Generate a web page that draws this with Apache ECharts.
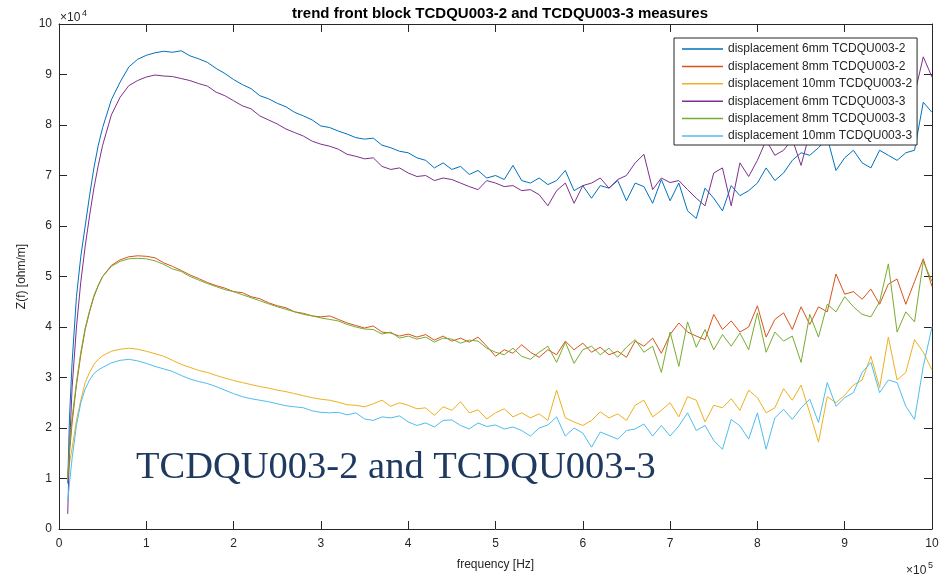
<!DOCTYPE html>
<html>
<head>
<meta charset="utf-8">
<script src="https://cdn.jsdelivr.net/npm/echarts@6/dist/echarts.min.js"></script>
<style>
  html, body { margin: 0; padding: 0; background: #fff; }
  #chart { width: 944px; height: 576px; }
</style>
</head>
<body>
<div id="chart"></div>
<script>
// frequency in units of 1e5 Hz, impedance in units of 1e4 ohm/m
const freq = [
  0.1, 0.12, 0.15, 0.2, 0.25, 0.3, 0.35, 0.4, 0.45, 0.5, 0.6, 0.7, 0.8, 0.9,
  1.0, 1.1, 1.2, 1.3, 1.4, 1.5, 1.6, 1.7, 1.8, 1.9,
  2.0, 2.1, 2.2, 2.3, 2.4, 2.5, 2.6, 2.7, 2.8, 2.9,
  3.0, 3.1, 3.2, 3.3, 3.4, 3.5, 3.6, 3.7, 3.8, 3.9,
  4.0, 4.1, 4.2, 4.3, 4.4, 4.5, 4.6, 4.7, 4.8, 4.9,
  5.0, 5.1, 5.2, 5.3, 5.4, 5.5, 5.6, 5.7, 5.8, 5.9,
  6.0, 6.1, 6.2, 6.3, 6.4, 6.5, 6.6, 6.7, 6.8, 6.9,
  7.0, 7.1, 7.2, 7.3, 7.4, 7.5, 7.6, 7.7, 7.8, 7.9,
  8.0, 8.1, 8.2, 8.3, 8.4, 8.5, 8.6, 8.7, 8.8, 8.9,
  9.0, 9.1, 9.2, 9.3, 9.4, 9.5, 9.6, 9.7, 9.8, 9.9,
  10.0
];

const z6mm_2 = [
  0.9, 2.2, 3.3, 4.6, 5.4, 6.0, 6.6, 7.15, 7.6, 7.95, 8.5, 8.85, 9.15, 9.3,
  9.38, 9.43, 9.46, 9.44, 9.47, 9.37, 9.31, 9.24, 9.12, 9.02,
  8.9, 8.8, 8.72, 8.58, 8.52, 8.43, 8.36, 8.25, 8.18, 8.1,
  7.98, 7.95, 7.88, 7.82, 7.75, 7.72, 7.74, 7.6, 7.55, 7.48,
  7.45, 7.35, 7.3, 7.15, 7.25, 7.12, 7.18, 7.02, 7.1, 6.95,
  7.0, 6.92, 7.2, 6.9, 6.85, 6.95, 6.82, 6.9, 7.1, 6.7,
  6.8, 6.55, 6.8, 6.75, 6.9, 6.5, 6.85, 6.78, 6.45, 6.92,
  6.5, 6.85, 6.3, 6.15, 6.75, 6.55, 6.3, 6.8, 6.6, 6.7,
  6.85, 7.15, 6.9, 7.05, 7.3, 7.45, 7.4, 7.55, 7.75, 7.1,
  7.35, 7.5, 7.25, 7.15, 7.5, 7.4, 7.3, 7.45, 7.5, 8.45,
  8.25
];

const z8mm_2 = [
  1.0, 1.5, 2.1, 2.85, 3.45, 3.95, 4.3, 4.6, 4.82, 5.0, 5.22, 5.33, 5.39, 5.41,
  5.4, 5.37, 5.27, 5.2, 5.12, 5.03, 4.96, 4.88, 4.82, 4.77,
  4.7, 4.68, 4.6, 4.56, 4.48, 4.42, 4.38, 4.3, 4.27, 4.22,
  4.2, 4.22, 4.15, 4.08, 4.03, 3.98, 4.02, 3.9, 3.88, 3.82,
  3.86, 3.8, 3.85, 3.74, 3.82, 3.72, 3.78, 3.7, 3.8, 3.62,
  3.42, 3.55, 3.48, 3.65, 3.5, 3.4, 3.55, 3.45, 3.72, 3.55,
  3.68, 3.5, 3.6, 3.45, 3.52, 3.4, 3.72, 3.62, 3.78, 3.48,
  3.85, 4.08, 3.9, 3.82, 3.75, 4.25, 3.95, 4.12, 3.9, 4.0,
  4.42, 3.8, 4.15, 4.28, 3.95, 4.4, 4.05, 4.4, 4.3, 5.05,
  4.65, 4.7, 4.55, 4.75, 4.45, 4.85, 4.95, 4.45, 4.9, 5.35,
  4.8
];

const z10mm_2 = [
  1.0, 1.3, 1.6, 2.15, 2.55, 2.9, 3.1, 3.26, 3.36, 3.43, 3.52, 3.56, 3.58, 3.56,
  3.52, 3.47, 3.42, 3.34, 3.26, 3.2, 3.14, 3.1, 3.04, 2.99,
  2.94, 2.9, 2.86, 2.82, 2.79, 2.75, 2.72, 2.68, 2.64, 2.6,
  2.57, 2.55, 2.51, 2.46, 2.45, 2.42, 2.48, 2.55, 2.43, 2.5,
  2.45, 2.38, 2.4, 2.25, 2.42, 2.35, 2.52, 2.3, 2.36, 2.18,
  2.3, 2.38, 2.22, 2.3, 2.2, 2.28, 2.15, 2.75, 2.2, 2.12,
  2.05, 2.15, 2.32, 2.2, 2.28, 2.15, 2.45, 2.55, 2.22, 2.35,
  2.5, 2.22, 2.62, 2.55, 2.12, 2.45, 2.4, 2.58, 2.35, 2.75,
  2.6, 2.3, 2.4, 2.78, 2.55, 2.85, 2.3, 1.72, 2.62, 2.5,
  2.65, 2.85, 2.95, 3.42, 2.8, 3.8, 2.95, 3.1, 3.75, 3.5,
  3.15
];

const z6mm_3 = [
  0.3, 1.6, 2.8, 4.0, 4.9, 5.6, 6.2, 6.75, 7.2, 7.6, 8.2, 8.55, 8.78, 8.88,
  8.95, 8.99, 8.97, 8.96, 8.92, 8.88, 8.82, 8.77, 8.65, 8.58,
  8.48, 8.38, 8.32, 8.18, 8.1, 8.02, 7.92, 7.85, 7.78, 7.68,
  7.62, 7.58, 7.52, 7.42, 7.38, 7.33, 7.35, 7.18, 7.12, 7.15,
  7.05, 6.98, 7.0, 6.9, 6.95, 6.92, 6.85, 6.78, 6.72, 6.9,
  6.85, 6.78, 6.8, 6.7, 6.72, 6.62, 6.4, 6.7, 6.85, 6.45,
  6.8, 6.85, 6.95, 6.75, 6.92, 7.0, 7.25, 7.42, 6.72, 6.95,
  6.86, 6.9, 6.72, 6.55, 6.4, 7.05, 7.15, 6.4, 7.25, 6.98,
  7.3, 7.7, 7.4, 7.5, 7.72, 7.2, 7.85, 7.7, 7.9, 7.6,
  7.8, 7.95, 7.7, 7.8, 7.95, 7.75, 7.9, 8.0, 8.6, 9.35,
  8.95
];

const z8mm_3 = [
  1.0, 1.6, 2.2, 2.9, 3.5, 3.98, 4.32, 4.62, 4.83, 5.0, 5.2, 5.3, 5.35, 5.36,
  5.35, 5.31, 5.24, 5.15, 5.1, 5.0, 4.93, 4.86, 4.8, 4.74,
  4.7, 4.64, 4.58, 4.52, 4.46, 4.4, 4.35, 4.3, 4.25, 4.22,
  4.18, 4.15, 4.12, 4.05, 4.0, 3.96, 3.95, 3.86, 3.9, 3.78,
  3.82, 3.76, 3.8, 3.7, 3.78, 3.76, 3.68, 3.74, 3.72, 3.58,
  3.5, 3.45, 3.58, 3.42, 3.36, 3.5, 3.62, 3.3, 3.7, 3.28,
  3.55, 3.62, 3.45, 3.58, 3.4, 3.6, 3.75, 3.5, 3.62, 3.1,
  3.9, 3.22, 4.1, 3.6, 3.95, 3.55, 3.85, 3.62, 3.88, 3.55,
  4.28, 3.5, 3.9, 3.72, 3.82, 3.3, 4.25, 3.8, 4.45, 4.3,
  4.6, 4.4, 4.25, 4.2, 4.5, 5.25, 3.9, 4.3, 4.1, 5.3,
  4.9
];

const z10mm_3 = [
  0.55, 0.9, 1.4, 2.05, 2.5, 2.77, 2.95, 3.08, 3.15, 3.2, 3.29, 3.34, 3.36, 3.33,
  3.28, 3.22, 3.17, 3.12, 3.04, 2.97, 2.92, 2.88, 2.82, 2.75,
  2.68, 2.62, 2.58, 2.55, 2.52, 2.48, 2.44, 2.42, 2.4, 2.34,
  2.31, 2.3, 2.31, 2.26, 2.3, 2.18, 2.15, 2.22, 2.2, 2.24,
  2.12, 2.05, 2.1, 2.02, 2.15, 2.16, 2.05, 1.98, 2.1, 2.03,
  2.06, 1.98, 2.02, 1.95, 1.84, 2.0, 2.06, 2.22, 1.84, 2.0,
  1.9, 1.62, 1.92, 1.85, 1.78, 1.95, 1.98, 2.08, 1.84, 2.05,
  1.84, 2.04, 2.3, 1.95, 2.05, 1.75, 1.58, 2.17, 2.04, 1.78,
  2.3, 1.58, 2.2, 2.37, 2.17, 2.4, 2.57, 2.11, 2.9, 2.43,
  2.6, 2.7, 3.1, 3.3, 2.7, 2.95, 2.9, 2.43, 2.17, 3.22,
  4.0
];

const seriesNames = [
  "displacement 6mm TCDQU003-2",
  "displacement 8mm TCDQU003-2",
  "displacement 10mm TCDQU003-2",
  "displacement 6mm TCDQU003-3",
  "displacement 8mm TCDQU003-3",
  "displacement 10mm TCDQU003-3"
];
const seriesValues = [z6mm_2, z8mm_2, z10mm_2, z6mm_3, z8mm_3, z10mm_3];
const seriesColors = ["#0072BD", "#D95319", "#EDB120", "#7E2F8E", "#77AC30", "#4DBEEE"];

const axisTicks = [0, 1, 2, 3, 4, 5, 6, 7, 8, 9, 10];

const FONT = "'Liberation Sans', Arial, Helvetica, sans-serif";
const AXIS_COLOR = "#262626";

const chart = echarts.init(document.getElementById("chart"));

const boxAxis = (extra) => Object.assign({
    type: "value",
    min: 0,
    max: 10,
    interval: 1,
    axisLine: { show: true, onZero: false, lineStyle: { color: AXIS_COLOR, width: 1 } },
    axisTick: { show: true, inside: true, length: 8, lineStyle: { color: AXIS_COLOR } },
    splitLine: { show: false },
    axisLabel: {
        show: true,
        color: AXIS_COLOR,
        fontFamily: FONT,
        fontSize: 12,
        formatter: (v) => axisTicks.includes(v) ? String(v) : ""
    }
}, extra);

chart.setOption({
    animation: false,
    backgroundColor: "#fff",

    title: {
        text: "trend front block TCDQU003-2 and TCDQU003-3 measures",
        left: 495,
        textAlign: "center",
        top: 1,
        textStyle: { fontFamily: FONT, fontSize: 15, fontWeight: "bold", color: "#000" }
    },

    grid: { left: 59, right: 12, top: 24, bottom: 46, containLabel: false },

    xAxis: [
        boxAxis({
            position: "bottom",
            name: "frequency [Hz]",
            nameLocation: "middle",
            nameGap: 30,
            nameTextStyle: { fontFamily: FONT, fontSize: 12, color: AXIS_COLOR },
            axisLabel: {
                color: AXIS_COLOR, fontFamily: FONT, fontSize: 12, margin: 9
            }
        }),
        boxAxis({ position: "top", axisLabel: { show: false } })
    ],

    yAxis: [
        boxAxis({
            position: "left",
            name: "Z(f) [ohm/m]",
            nameLocation: "middle",
            nameGap: 31,
            nameRotate: 90,
            nameTextStyle: { fontFamily: FONT, fontSize: 12, color: AXIS_COLOR },
            axisLabel: {
                color: AXIS_COLOR, fontFamily: FONT, fontSize: 12, margin: 7
            }
        }),
        boxAxis({ position: "right", axisLabel: { show: false } })
    ],

    legend: {
        orient: "vertical",
        left: 674,
        top: 38,
        padding: [4, 5, 2, 8],
        icon: "rect",
        itemWidth: 41,
        itemHeight: 1.5,
        itemGap: 3.4,
        backgroundColor: "#fff",
        borderColor: AXIS_COLOR,
        borderWidth: 1,
        borderRadius: 0,
        textStyle: { fontFamily: FONT, fontSize: 12, lineHeight: 14, color: AXIS_COLOR },
        data: seriesNames
    },

    series: seriesNames.map((name, k) => ({
        name: name,
        type: "line",
        xAxisIndex: 0,
        yAxisIndex: 0,
        symbol: "none",
        smooth: false,
        color: seriesColors[k],
        lineStyle: { width: 1, color: seriesColors[k] },
        data: freq.map((f, i) => [f, seriesValues[k][i]])
    })),

    graphic: [
        // exponent markers
        { type: "text", left: 60, top: 12, style: { text: "\u00d710", fontFamily: FONT, fontSize: 12, fill: AXIS_COLOR } },
        { type: "text", left: 82, top: 9, style: { text: "4", fontFamily: FONT, fontSize: 9, fill: AXIS_COLOR } },
        { type: "text", left: 906, top: 565, style: { text: "\u00d710", fontFamily: FONT, fontSize: 12, fill: AXIS_COLOR } },
        { type: "text", left: 928, top: 561, style: { text: "5", fontFamily: FONT, fontSize: 9, fill: AXIS_COLOR } },

        // overlay caption
        {
            type: "text",
            left: 136,
            top: 448,
            z: 100,
            style: {
                text: "TCDQU003-2 and TCDQU003-3",
                fontFamily: "'Liberation Serif', 'DejaVu Serif', serif",
                fontSize: 38.5,
                fill: "#1f3a60"
            }
        }
    ]
});
</script>
</body>
</html>
